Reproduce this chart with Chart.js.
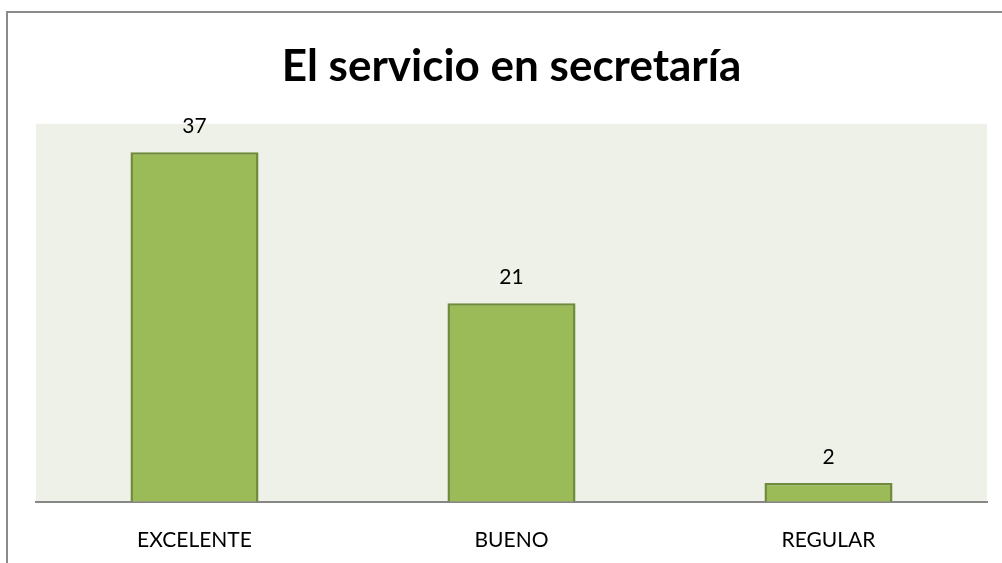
<!DOCTYPE html>
<html>
<head>
<meta charset="utf-8">
<script src="https://cdn.jsdelivr.net/npm/chart.js@4"></script>
<style>
  html, body { margin: 0; padding: 0; background: #fff; overflow: hidden; }
  #frame {
    position: absolute; left: 6px; top: 11px;
    width: 1100px; height: 700px;
    border-left: 2px solid #8a8a8a; border-top: 2px solid #8a8a8a;
  }
  #wrap { position: absolute; left: 0; top: 0; width: 1002px; height: 585px; }
</style>
</head>
<body>
<div id="frame"></div>
<div id="wrap"><canvas id="chart"></canvas></div>
<script>
// datos
const categories = ['EXCELENTE', 'BUENO', 'REGULAR'];
const values = [37, 21, 2];
const chartTitle = 'El servicio en secretaría';

const fontFamily = 'Lato, "Open Sans", sans-serif';

// fondo del área de trazado
const plotBackground = {
  id: 'plotBackground',
  beforeDraw(chart) {
    const { ctx, chartArea } = chart;
    ctx.save();
    ctx.fillStyle = '#eef1e7';
    ctx.fillRect(chartArea.left, chartArea.top, chartArea.right - chartArea.left, chartArea.bottom - chartArea.top);
    ctx.restore();
  }
};

// etiquetas de valor encima de las barras
const valueLabels = {
  id: 'valueLabels',
  afterDatasetsDraw(chart) {
    const { ctx } = chart;
    const meta = chart.getDatasetMeta(0);
    ctx.save();
    ctx.font = '21px ' + fontFamily;
    ctx.fillStyle = '#000';
    ctx.textAlign = 'center';
    ctx.textBaseline = 'alphabetic';
    meta.data.forEach((bar, i) => {
      ctx.fillText(values[i], bar.x, bar.y - 19);
    });
    ctx.restore();
  }
};

new Chart(document.getElementById('chart'), {
  type: 'bar',
  data: {
    labels: categories,
    datasets: [{
      data: values,
      backgroundColor: '#9bbb59',
      borderColor: '#6f8a3a',
      borderWidth: 2.5,
      borderSkipped: 'bottom',
      barPercentage: 0.404,
      categoryPercentage: 1
    }]
  },
  options: {
    responsive: true,
    maintainAspectRatio: false,
    animation: false,
    layout: { padding: { left: 36, right: 15, top: 0, bottom: 14 } },
    plugins: {
      legend: { display: false },
      tooltip: { enabled: false },
      title: {
        display: true,
        text: chartTitle,
        color: '#000',
        font: { family: fontFamily, size: 44, weight: 'bold', lineHeight: 1.2 },
        padding: { top: 40, bottom: 31 }
      }
    },
    scales: {
      y: {
        display: false,
        min: 0,
        max: 40
      },
      x: {
        grid: { display: false },
        border: { display: true, color: '#878787', width: 2 },
        ticks: {
          color: '#000',
          padding: 18,
          font: { family: fontFamily, size: 21 }
        }
      }
    }
  },
  plugins: [plotBackground, valueLabels]
});
</script>
</body>
</html>
